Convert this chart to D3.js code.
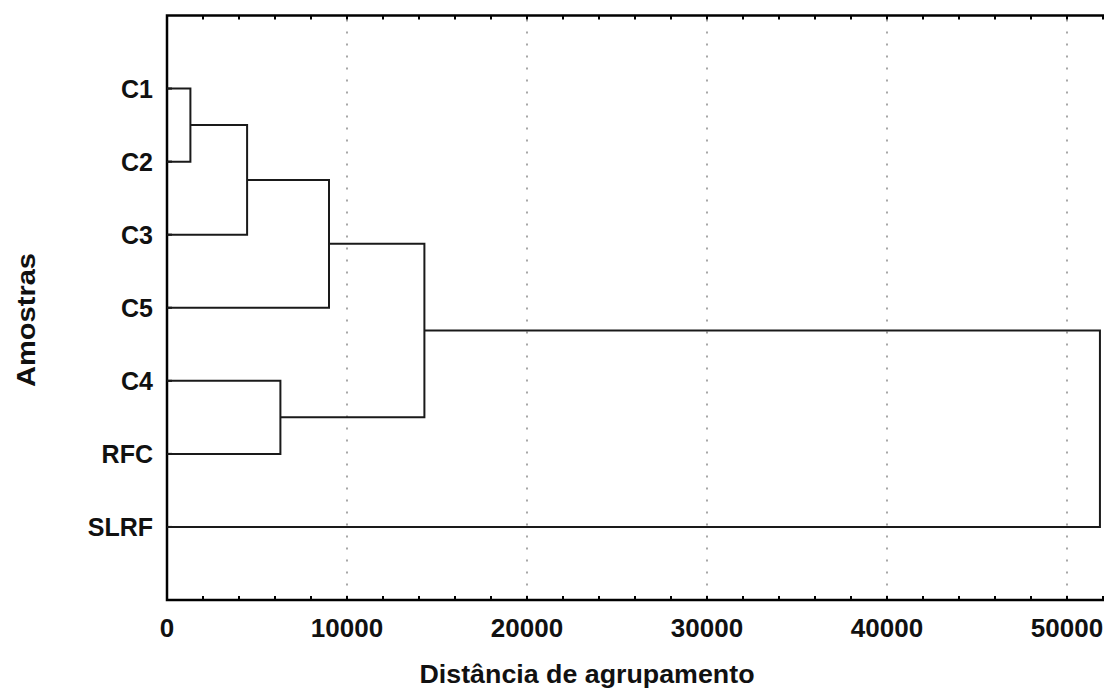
<!DOCTYPE html>
<html>
<head>
<meta charset="utf-8">
<title>Dendrograma</title>
<style>
  body { margin: 0; background: #fff; }
  svg { display: block; }
  text { font-family: "Liberation Sans", Arial, sans-serif; font-weight: bold; fill: #111; }
  .link { stroke: #1a1a1a; stroke-width: 2; fill: none; }
  .grid { stroke: #8a8a8a; stroke-width: 1.5; stroke-dasharray: 2 10; }
  .frame { stroke: #000; stroke-width: 2.5; fill: none; }
</style>
</head>
<body>
<div id="chart"></div>
<script src="https://cdn.jsdelivr.net/npm/d3@7"></script>
<script>
  // leaves, top to bottom
  const leaves = ["C1", "C2", "C3", "C5", "C4", "RFC", "SLRF"];
  // merges: [left child, right child, distance]
  const merges = [
    ["C1", "C2", 1300],
    ["m0", "C3", 4450],
    ["m1", "C5", 9000],
    ["C4", "RFC", 6300],
    ["m2", "m3", 14300],
    ["m4", "SLRF", 51830]
  ];
  const xTicks = [0, 10000, 20000, 30000, 40000, 50000];

  const width = 1104, height = 690;
  const svg = d3.select("#chart").append("svg")
    .attr("width", width).attr("height", height);

  const x = d3.scaleLinear().domain([0, 10000]).range([167, 347]);
  const y = d3.scaleLinear().domain([0, leaves.length + 1]).range([15.5, 600]);
  const x1 = width;

  // vertical dotted grid
  svg.selectAll(".grid").data(xTicks.slice(1)).enter().append("line")
    .attr("class", "grid")
    .attr("x1", d => x(d)).attr("x2", d => x(d))
    .attr("y1", y(0) + 4).attr("y2", y(leaves.length + 1) - 4);

  // minor ticks on top and bottom
  const minor = d3.range(2000, x.invert(x1), 2000);
  svg.selectAll(".tb").data(minor).enter().append("line")
    .attr("x1", d => x(d)).attr("x2", d => x(d))
    .attr("y1", y(leaves.length + 1)).attr("y2", y(leaves.length + 1) - 4)
    .attr("stroke", "#000").attr("stroke-width", 2);
  svg.selectAll(".tt").data(minor).enter().append("line")
    .attr("x1", d => x(d)).attr("x2", d => x(d))
    .attr("y1", y(0)).attr("y2", y(0) + 4)
    .attr("stroke", "#000").attr("stroke-width", 2);

  // left ticks at rows
  svg.selectAll(".tl").data(d3.range(1, leaves.length + 1)).enter().append("line")
    .attr("x1", x(0)).attr("x2", x(0) + 5)
    .attr("y1", d => y(d)).attr("y2", d => y(d))
    .attr("stroke", "#000").attr("stroke-width", 2);

  // frame: top, left, bottom
  svg.append("path").attr("class", "frame")
    .attr("d", `M${x1},${y(0)}H${x(0)}V${y(leaves.length + 1)}H${x1}`);

  // dendrogram
  const pos = {};
  leaves.forEach((l, i) => { pos[l] = { h: 0, r: i + 1 }; });
  merges.forEach((m, i) => {
    const a = pos[m[0]], b = pos[m[1]], h = m[2];
    const p = d3.path();
    p.moveTo(x(a.h), y(a.r)); p.lineTo(x(h), y(a.r));
    p.lineTo(x(h), y(b.r)); p.lineTo(x(b.h), y(b.r));
    svg.append("path").attr("class", "link").attr("d", p.toString());
    pos["m" + i] = { h: h, r: (a.r + b.r) / 2 };
  });

  // leaf labels
  svg.selectAll(".leaf").data(leaves).enter().append("text")
    .attr("x", 153).attr("y", (d, i) => y(i + 1) + 9)
    .attr("text-anchor", "end").attr("font-size", 25)
    .text(d => d);

  // x tick labels
  svg.selectAll(".xl").data(xTicks).enter().append("text")
    .attr("x", d => x(d)).attr("y", 637)
    .attr("text-anchor", "middle").attr("font-size", 26)
    .text(d => d);

  svg.append("text").attr("x", 587).attr("y", 683)
    .attr("text-anchor", "middle").attr("font-size", 25)
    .attr("textLength", 335).attr("lengthAdjust", "spacingAndGlyphs")
    .text("Distância de agrupamento");

  svg.append("text")
    .attr("transform", "translate(35,320) rotate(-90)")
    .attr("text-anchor", "middle").attr("font-size", 25)
    .attr("textLength", 134).attr("lengthAdjust", "spacingAndGlyphs")
    .text("Amostras");
</script>
</body>
</html>
